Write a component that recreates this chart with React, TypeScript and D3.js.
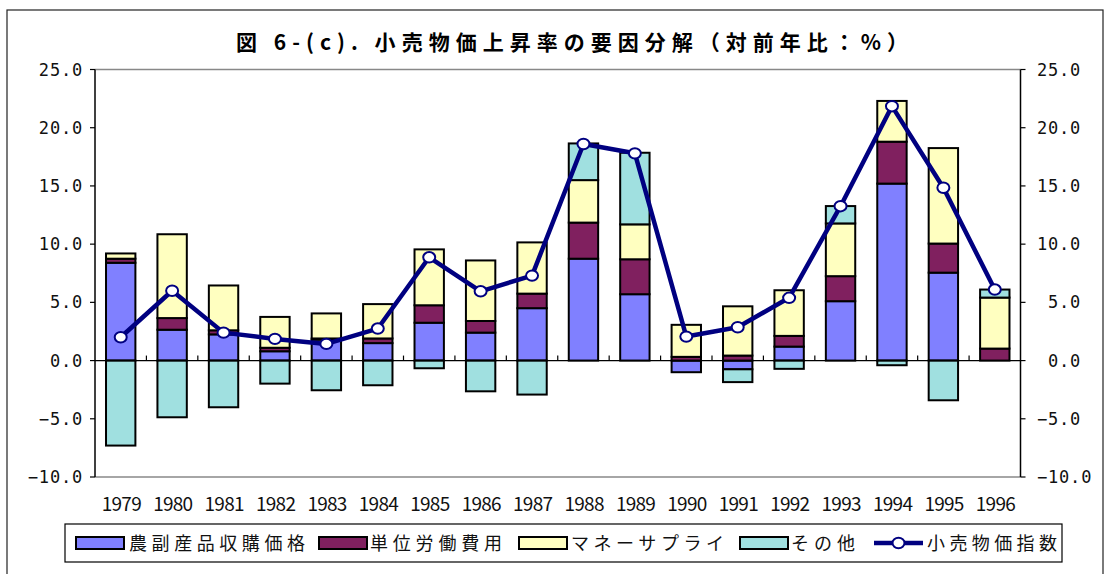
import React from "react";
import * as d3 from "d3";

// years on the category axis
const years = ["1979", "1980", "1981", "1982", "1983", "1984", "1985", "1986", "1987",
  "1988", "1989", "1990", "1991", "1992", "1993", "1994", "1995", "1996"];

// components (%)
const agri = [8.4, 2.65, 2.25, 0.8, 1.8, 1.5, 3.25, 2.4, 4.5, 8.75, 5.7, -1.0, -0.75, 1.2, 5.1, 15.2, 7.55, 0];
const labor = [0.35, 1.0, 0.35, 0.3, 0.1, 0.4, 1.5, 1.0, 1.25, 3.1, 3.0, 0.32, 0.43, 0.92, 2.15, 3.6, 2.5, 1.03];
const money = [0.45, 7.2, 3.85, 2.65, 2.15, 2.95, 4.8, 5.2, 4.4, 3.65, 3.0, 2.75, 4.23, 3.92, 4.53, 3.5, 8.2, 4.38];
const other = [-7.3, -4.87, -4.01, -1.98, -2.55, -2.12, -0.66, -2.64, -2.92, 3.15, 6.15, 0, -1.1, -0.71, 1.49, -0.4, -3.41, 0.69];

// retail price index (%)
const retail = [2.0, 6.0, 2.4, 1.86, 1.43, 2.75, 8.87, 5.95, 7.3, 18.6, 17.8, 2.06, 2.86, 5.39, 13.26, 21.85, 14.84, 6.1];

const yTicks = [-10, -5, 0, 5, 10, 15, 20, 25];

const seriesNames = ["農副産品収購価格", "単位労働費用", "マネーサプライ", "その他"];
const seriesColors = ["#8080ff", "#80205f", "#ffffc0", "#a0e0e0"];
const lineName = "小売物価指数";

const JP = "'Noto Sans CJK JP', 'Noto Sans', sans-serif";
const MONO = "'DejaVu Sans Mono', monospace";

export default function App() {
  const width = 1105, height = 574;
  const left = 95, right = 1020.5, top = 69.5, bottom = 477;

  const x = d3.scaleBand().domain(years).range([left, right]).paddingInner(0.4286).paddingOuter(0.2143);
  const y = d3.scaleLinear().domain([-10, 25]).range([bottom, top]);
  const step = x.step();

  const keys = ["a", "l", "m", "o"];
  const rows = years.map((yr, i) => ({ year: yr, a: agri[i], l: labor[i], m: money[i], o: other[i] }));
  const stacked = d3.stack<any>().keys(keys).offset(d3.stackOffsetDiverging)(rows);

  const cx = (i: number) => (x(years[i]) as number) + x.bandwidth() / 2;
  const line = d3.line<number>().x((d, i) => cx(i)).y(d => y(d));

  const fmt = d3.format(".1f");
  const charW = 11;

  // legend layout
  const legendItems = [
    { sw: 76, tx: 129, tw: 176 },
    { sw: 319, tx: 370, tw: 132 },
    { sw: 519, tx: 571, tw: 153 },
    { sw: 740, tx: 791, tw: 64 },
  ];
  const legY = 543;

  return (
    <svg width={width} height={height} style={{ position: "absolute", left: 0, top: 0, background: "#fff" }}>
      {/* outer frame */}
      <rect x={7} y={10} width={1096} height={600} fill="none" stroke="#222" strokeWidth={1.2} />

      {/* title */}
      <text x={236} y={50} fontFamily={JP} fontSize={21} fontWeight="bold" textLength={672} lengthAdjust="spacing">
        図 6-(c). 小売物価上昇率の要因分解（対前年比：%）
      </text>

      {/* plot area border */}
      <line x1={left} x2={right} y1={top} y2={top} stroke="#888" strokeWidth={1.5} />
      <line x1={left} x2={right} y1={bottom} y2={bottom} stroke="#888" strokeWidth={1.5} />
      <line x1={left} x2={left} y1={top} y2={bottom} stroke="#000" strokeWidth={1.5} />
      <line x1={right} x2={right} y1={top} y2={bottom} stroke="#000" strokeWidth={1.5} />

      {/* y axes */}
      {yTicks.map(t => {
        const label = fmt(t);
        const w = label.length * charW;
        return (
          <g key={t}>
            <line x1={left - 5} x2={left} y1={y(t)} y2={y(t)} stroke="#000" strokeWidth={1.2} />
            <line x1={right} x2={right + 5} y1={y(t)} y2={y(t)} stroke="#000" strokeWidth={1.2} />
            <text x={83} y={y(t)} dy="0.36em" textAnchor="end" fontFamily={MONO} fontSize={17} letterSpacing={0.8} fill="#111">
              {label}
            </text>
            <text x={Math.max(1037, 1081 - w)} y={y(t)} dy="0.36em" fontFamily={MONO} fontSize={17} letterSpacing={0.8} fill="#111">
              {label}
            </text>
          </g>
        );
      })}

      {/* bars */}
      {stacked.map((s, si) => (
        <g key={si}>
          {s.map((d, i) => {
            const y0 = y(Math.max(d[0], d[1]));
            const y1 = y(Math.min(d[0], d[1]));
            if (y1 - y0 < 0.01) return null;
            return (
              <rect key={i} x={x(years[i])} y={y0} width={x.bandwidth()} height={y1 - y0}
                fill={seriesColors[si]} stroke="#000" strokeWidth={2} />
            );
          })}
        </g>
      ))}

      {/* zero line with category ticks */}
      <line x1={left} x2={right} y1={y(0)} y2={y(0)} stroke="#000" strokeWidth={1.2} />
      {years.slice(1).map((yr, i) => (
        <line key={yr} x1={left + (i + 1) * step} x2={left + (i + 1) * step} y1={y(0) - 5} y2={y(0)} stroke="#000" strokeWidth={1.2} />
      ))}

      {/* retail price line */}
      <path d={line(retail) || ""} fill="none" stroke="#000080" strokeWidth={4.5} strokeLinejoin="round" />
      {retail.map((v, i) => (
        <ellipse key={i} cx={cx(i)} cy={y(v)} rx={6} ry={5.2} fill="#fff" stroke="#000080" strokeWidth={2} />
      ))}

      {/* x labels */}
      {years.map((yr, i) => (
        <text key={yr} x={cx(i) + 1} y={511} textAnchor="middle" fontFamily={JP} fontSize={19} textLength={40} lengthAdjust="spacing" fill="#111">
          {yr}
        </text>
      ))}

      {/* legend */}
      <rect x={65} y={524} width={997} height={38} fill="#fff" stroke="#000" strokeWidth={1.2} />
      {legendItems.map((it, i) => (
        <g key={i}>
          <rect x={it.sw} y={legY - 6} width={48} height={12} fill={seriesColors[i]} stroke="#000" strokeWidth={2} />
          <text x={it.tx} y={legY} dy="0.38em" fontFamily={JP} fontSize={18} textLength={it.tw} lengthAdjust="spacing" fill="#111">
            {seriesNames[i]}
          </text>
        </g>
      ))}
      <line x1={874} x2={923} y1={legY} y2={legY} stroke="#000080" strokeWidth={4.5} />
      <ellipse cx={898.5} cy={legY} rx={6} ry={5.2} fill="#fff" stroke="#000080" strokeWidth={2} />
      <text x={927} y={legY} dy="0.38em" fontFamily={JP} fontSize={18} textLength={130} lengthAdjust="spacing" fill="#111">
        {lineName}
      </text>
    </svg>
  );
}
